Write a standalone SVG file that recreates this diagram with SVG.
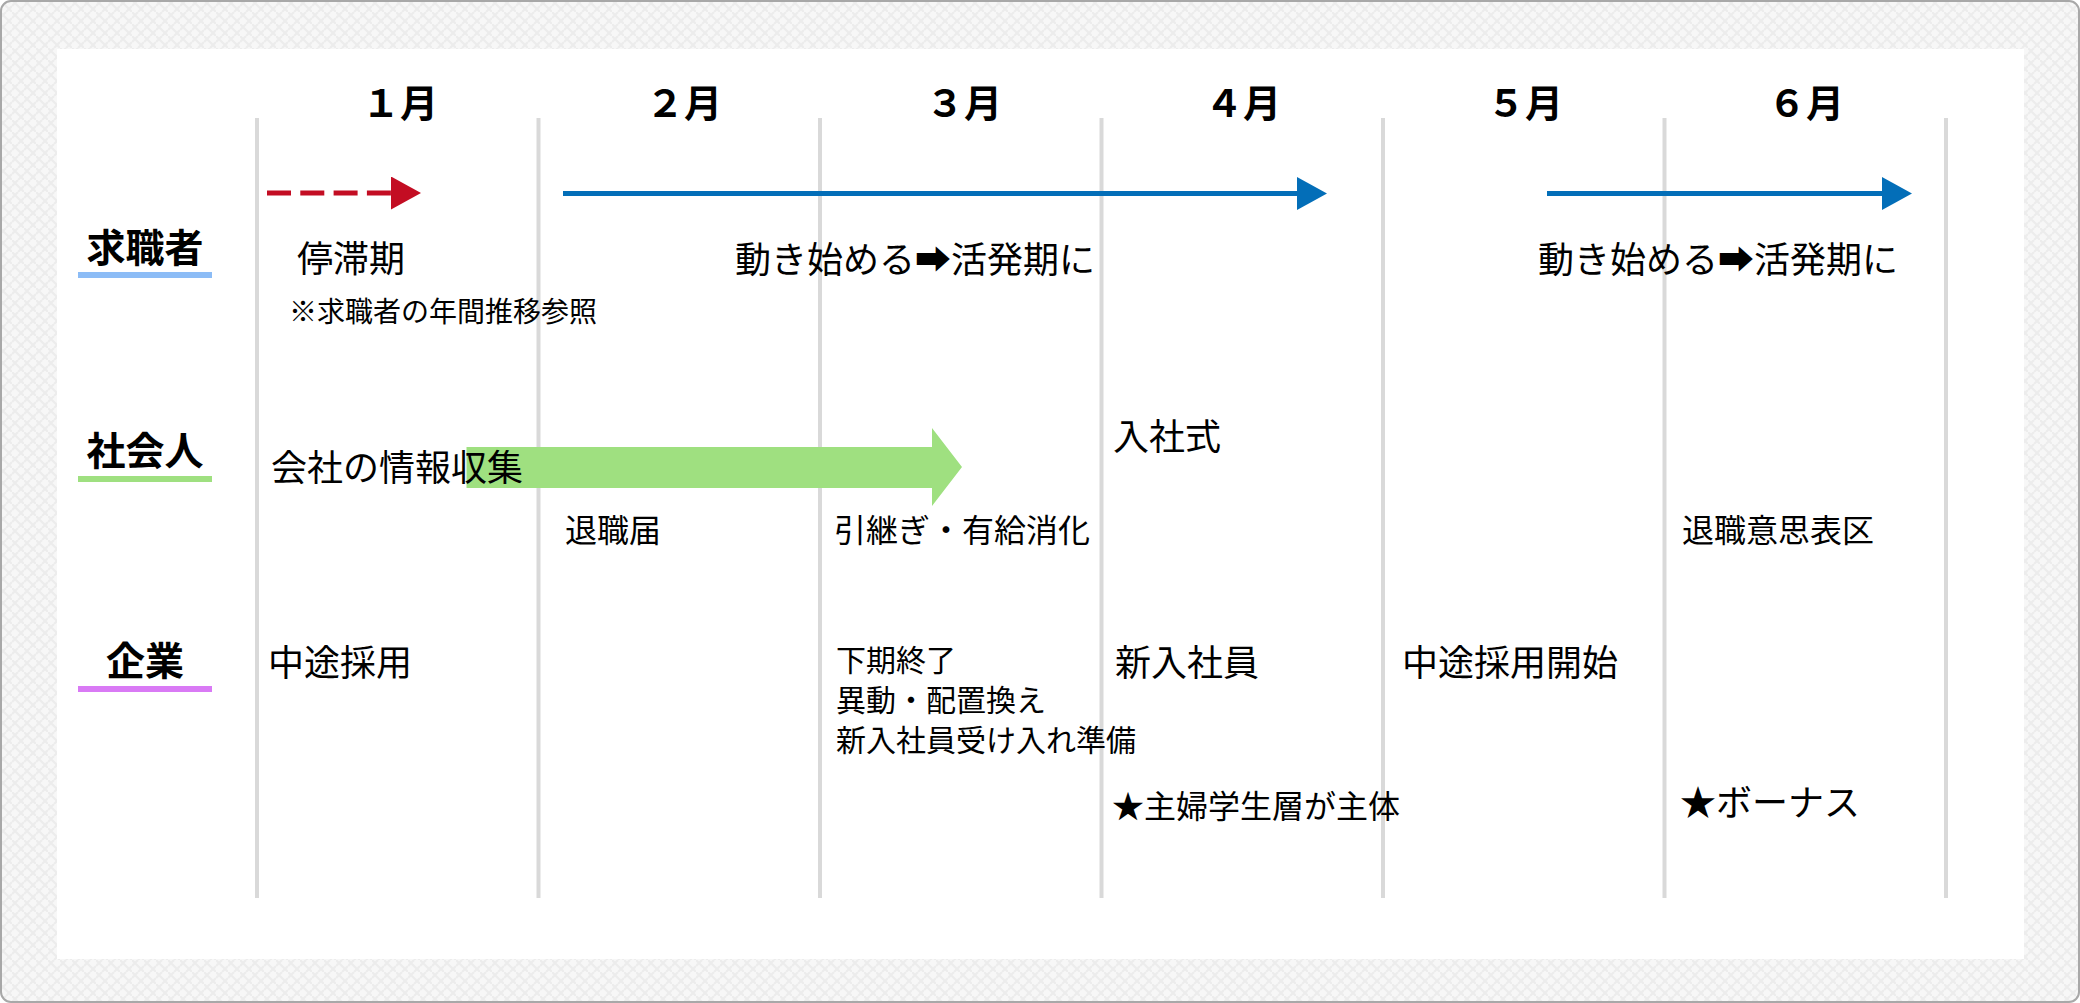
<svg xmlns="http://www.w3.org/2000/svg" width="2080" height="1003" viewBox="0 0 2080 1003">
<defs>
<pattern id="weave" width="12" height="12" patternUnits="userSpaceOnUse">
<rect width="12" height="12" fill="#f7f7f7"/>
<path d="M0 6 L6 0 M6 12 L12 6 M0 0 L6 6 M6 6 L12 12" stroke="#ececec" stroke-width="2" fill="none"/>
</pattern>
<marker id="headRed" markerWidth="30" markerHeight="33" refX="0" refY="16.5" orient="auto" markerUnits="userSpaceOnUse">
<path d="M0 0 L30 16.5 L0 33 Z" fill="#c30d23"/>
</marker>
<marker id="headBlue" markerWidth="30" markerHeight="33" refX="0" refY="16.5" orient="auto" markerUnits="userSpaceOnUse">
<path d="M0 0 L30 16.5 L0 33 Z" fill="#036eb8"/>
</marker>
</defs>
<style>
.month{font-family:"Noto Sans CJK JP","Noto Sans",sans-serif;font-weight:700;font-size:38px;fill:#000;text-anchor:middle}
.row{font-family:"Noto Sans CJK JP","Noto Sans",sans-serif;font-weight:700;font-size:39px;fill:#000;text-anchor:middle}
.t36{font-family:"Noto Sans CJK JP","Noto Sans",sans-serif;font-size:36px;fill:#000}
.t30{font-family:"Noto Sans CJK JP","Noto Sans",sans-serif;font-size:30px;fill:#000}
.t32{font-family:"Noto Sans CJK JP","Noto Sans",sans-serif;font-size:32px;fill:#000}
.t28{font-family:"Noto Sans CJK JP","Noto Sans",sans-serif;font-size:28px;fill:#000}
.grid{stroke:#d9d9d9;stroke-width:4}
</style>
<rect x="1" y="1" width="2078" height="1001" rx="10" fill="url(#weave)" stroke="#a8a8a8" stroke-width="2"/>
<rect x="57" y="49" width="1967" height="910" fill="#ffffff"/>

<g id="grid">
<line class="grid" x1="257" y1="118" x2="257" y2="898"/>
<line class="grid" x1="538.5" y1="118" x2="538.5" y2="898"/>
<line class="grid" x1="820" y1="118" x2="820" y2="898"/>
<line class="grid" x1="1101.5" y1="118" x2="1101.5" y2="898"/>
<line class="grid" x1="1383" y1="118" x2="1383" y2="898"/>
<line class="grid" x1="1664.5" y1="118" x2="1664.5" y2="898"/>
<line class="grid" x1="1946" y1="118" x2="1946" y2="898"/>
</g>

<g id="months">
<text class="month" x="400" y="117">１月</text>
<text class="month" x="684" y="117">２月</text>
<text class="month" x="964" y="117">３月</text>
<text class="month" x="1243" y="117">４月</text>
<text class="month" x="1525" y="117">５月</text>
<text class="month" x="1806" y="117">６月</text>
</g>

<g id="row-jobseeker">
<text class="row" x="145" y="262">求職者</text>
<rect x="78" y="272" width="134" height="6" fill="#8cbcf6"/>
</g>
<g id="row-worker">
<text class="row" x="145" y="465">社会人</text>
<rect x="78" y="476" width="134" height="6" fill="#9fe080"/>
</g>
<g id="row-company">
<text class="row" x="145" y="675">企業</text>
<rect x="78" y="686" width="134" height="6" fill="#d97af5"/>
</g>

<g id="connectors">
<line x1="267" y1="193" x2="391" y2="193" stroke="#c30d23" stroke-width="5" stroke-dasharray="24 9.3" marker-end="url(#headRed)"/>
<line x1="563" y1="193.5" x2="1297" y2="193.5" stroke="#036eb8" stroke-width="5" marker-end="url(#headBlue)"/>
<line x1="1547" y1="193.5" x2="1882" y2="193.5" stroke="#036eb8" stroke-width="5" marker-end="url(#headBlue)"/>
<path d="M466.5 447 L932 447 L932 428 L962 467 L932 506 L932 488 L466.5 488 Z" fill="#9fe080"/>
</g>

<g id="jobseeker-items">
<text class="t36" x="297" y="272">停滞期</text>
<text class="t28" x="289" y="322">※求職者の年間推移参照</text>
<text class="t36" x="735" y="273">動き始める➡活発期に</text>
<text class="t36" x="1538" y="273">動き始める➡活発期に</text>
</g>

<g id="worker-items">
<text class="t36" x="271" y="481">会社の情報収集</text>
<text class="t36" x="1113" y="450">入社式</text>
<text class="t32" x="565" y="542">退職届</text>
<text class="t32" x="834" y="542">引継ぎ・有給消化</text>
<text class="t32" x="1682" y="542">退職意思表区</text>
</g>

<g id="company-items">
<text class="t36" x="268" y="676">中途採用</text>
<text class="t30" x="836" y="671">下期終了</text>
<text class="t30" x="836" y="711">異動・配置換え</text>
<text class="t30" x="836" y="751">新入社員受け入れ準備</text>
<text class="t36" x="1115" y="676">新入社員</text>
<text class="t36" x="1402" y="676">中途採用開始</text>
<text class="t32" x="1112" y="818">★主婦学生層が主体</text>
<text class="t36" x="1680" y="816">★ボーナス</text>
</g>
</svg>
